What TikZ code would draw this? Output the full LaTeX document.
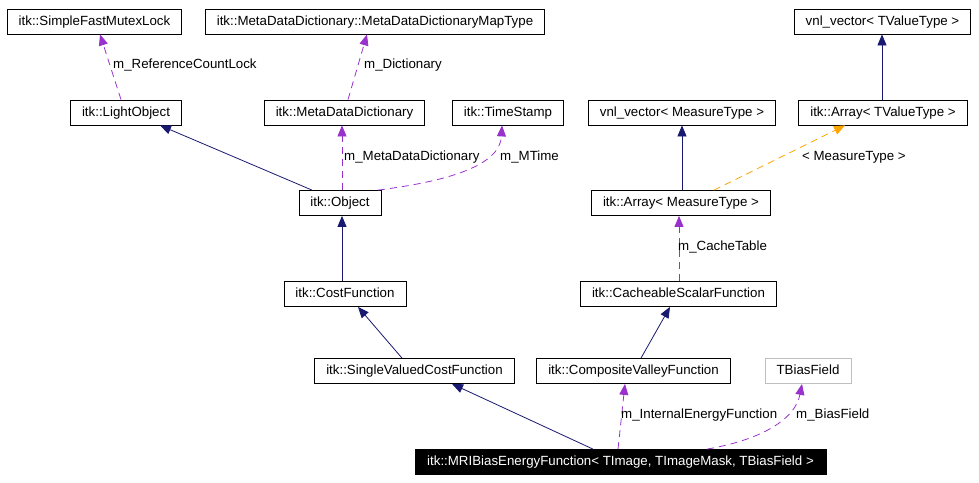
\documentclass[tikz,border=0pt]{standalone}
\usepackage{fontspec}
\setmainfont{Liberation Sans}
\usetikzlibrary{arrows.meta}
\definecolor{inhblue}{RGB}{25,25,112}
\definecolor{usepurple}{RGB}{153,50,204}
\definecolor{tmplorange}{RGB}{255,165,0}
\definecolor{extgray}{RGB}{191,191,191}

\begin{document}
\begin{tikzpicture}[x=1pt,y=-1pt,font=\fontsize{13.3}{15}\selectfont,
  classbox/.style={draw,line width=0.8pt,minimum height=25pt,inner xsep=11.5pt,inner ysep=0pt,
    text height=9.5pt,text depth=2.5pt},
  inherit/.style={inhblue,line width=0.8pt,-{Triangle[length=11pt,width=9pt]}},
  uses/.style={usepurple,line width=0.8pt,dash pattern=on 7pt off 5pt,-{Triangle[length=11pt,width=9pt]}},
  tmpl/.style={tmplorange,line width=0.8pt,dash pattern=on 7pt off 5pt,-{Triangle[length=11pt,width=9pt]}},
  edgelbl/.style={anchor=west,inner sep=0pt}]
\useasboundingbox (0,0) rectangle (979,482);
% class boxes, row by row
\node[classbox] (sfml)    at (94.5,21.5)  {itk::SimpleFastMutexLock};
\node[classbox] (maptype) at (375,21.5)   {itk::MetaDataDictionary::MetaDataDictionaryMapType};
\node[classbox] (vnlT)    at (882.5,21.5) {vnl\_vector< TValueType >};
\node[classbox] (light)   at (126,112.5)  {itk::LightObject};
\node[classbox] (mdd)     at (344.5,112.5) {itk::MetaDataDictionary};
\node[classbox] (stamp)   at (508,112.5)  {itk::TimeStamp};
\node[classbox] (vnlM)    at (682,112.5)  {vnl\_vector< MeasureType >};
\node[classbox] (arrT)    at (883,112.5)  {itk::Array< TValueType >};
\node[classbox] (object)  at (340,203)    {itk::Object};
\node[classbox] (arrM)    at (681,203)    {itk::Array< MeasureType >};
\node[classbox] (cost)    at (345,294)    {itk::CostFunction};
\node[classbox] (cache)   at (678.5,294)  {itk::CacheableScalarFunction};
\node[classbox] (svcf)    at (414.5,371)  {itk::SingleValuedCostFunction};
\node[classbox] (cvf)     at (633.5,371)  {itk::CompositeValleyFunction};
\node[classbox,draw=extgray] (tbias) at (808,371) {TBiasField};
\node[classbox,fill=black,text=white,minimum width=411pt] (mri) at (620.5,462)
  {itk::MRIBiasEnergyFunction< TImage, TImageMask, TBiasField >};
% inheritance
\draw[inherit] ([xshift=-28pt]object.north) -- ([xshift=34pt]light.south);
\draw[inherit] ([xshift=-1pt]arrT.north) -- ([xshift=-0.5pt]vnlT.south);
\draw[inherit] ([xshift=1pt]arrM.north) -- (vnlM.south);
\draw[inherit] ([xshift=-3pt]cost.north) -- ([xshift=2pt]object.south);
\draw[inherit] ([xshift=-12.5pt]svcf.north) -- ([xshift=13pt]cost.south);
\draw[inherit] ([xshift=7.5pt]cvf.north) -- ([xshift=-8.5pt]cache.south);
\draw[inherit] ([xshift=-27.5pt]mri.north) -- ([xshift=37.5pt]svcf.south);
% members
\draw[uses] ([xshift=-5pt]light.north) -- ([xshift=5.5pt]sfml.south);
\draw[uses] ([xshift=3.5pt]mdd.north) -- ([xshift=-8pt]maptype.south);
\draw[uses] ([xshift=2pt]object.north) -- ([xshift=-2.5pt]mdd.south);
\draw[uses] ([xshift=38pt]object.north) .. controls (450,181) and (500,165) .. ([xshift=-6pt]stamp.south);
\draw[uses] ([xshift=0.5pt]cache.north) -- ([xshift=-2pt]arrM.south);
\draw[uses] ([xshift=-2.5pt]mri.north) -- ([xshift=-8.5pt]cvf.south);
\draw[uses] ([xshift=86.5pt]mri.north) .. controls (760,440) and (795,420) .. ([xshift=-6pt]tbias.south);
% template instance
\draw[tmpl] ([xshift=33pt]arrM.north) -- ([xshift=-38pt]arrT.south);
% edge labels
\node[edgelbl] (lblrefcount) at (113,65)  {m\_ReferenceCountLock};
\node[edgelbl] (lbldict)     at (364,65)  {m\_Dictionary};
\node[edgelbl] (lblmdd)      at (344,157) {m\_MetaDataDictionary};
\node[edgelbl] (lblmtime)    at (500,157) {m\_MTime};
\node[edgelbl] (lblmeasure)  at (802,157) {< MeasureType >};
\node[edgelbl] (lblcache)    at (678,247) {m\_CacheTable};
\node[edgelbl] (lblinternal) at (621,415) {m\_InternalEnergyFunction};
\node[edgelbl] (lblbias)     at (796,415) {m\_BiasField};
\end{tikzpicture}
\end{document}
